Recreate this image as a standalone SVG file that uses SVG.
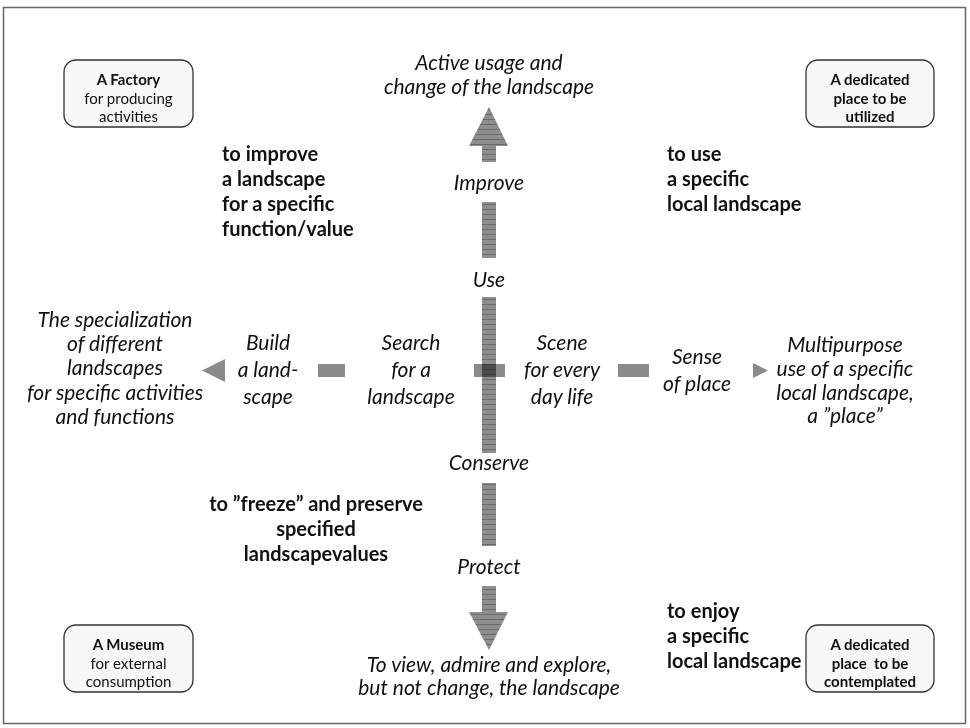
<svg xmlns="http://www.w3.org/2000/svg" width="970" height="728" viewBox="0 0 970 728">
<defs>
<pattern id="stripe" width="8" height="5" patternUnits="userSpaceOnUse">
<rect width="8" height="5" fill="#8e8e8e"/>
<rect y="4" width="8" height="1" fill="#6a6a6a"/>
</pattern>
</defs>
<style>
text{font-family:Lato,"Open Sans","Liberation Sans",sans-serif;fill:#111}
.it{font-style:italic;font-size:21px;text-anchor:middle}
.bd{font-weight:bold;font-size:20px}
.bx{font-size:15px;text-anchor:middle}
.bxb{font-size:15px;text-anchor:middle;font-weight:bold}
.box{fill:#f7f7f7;stroke:#333;stroke-width:1.3}
.shaft{fill:url(#stripe)}
.hbar{fill:#8a8a8a}
.cross{fill:#8a8a8a;mix-blend-mode:multiply}
</style>
<rect x="3.5" y="7.5" width="962" height="716" fill="#fff" stroke="#666" stroke-width="1.5"/>

<g id="connectors">
<path class="shaft" d="M482,162 L482,146 L469,146 L489,107 L508,146 L496,146 L496,162 Z"/>
<rect class="shaft" x="482" y="202" width="14" height="56"/>
<rect class="shaft" x="482" y="297" width="14" height="156"/>
<rect class="shaft" x="482" y="483" width="14" height="63"/>
<path class="shaft" d="M482,586 L496,586 L496,612 L508,612 L489,650 L469,612 L482,612 Z"/>
<rect class="cross" x="474" y="364" width="31" height="13"/>
<rect class="hbar" x="318" y="364" width="27" height="13"/>
<polygon class="hbar" points="202,370.5 225,359 225,382"/>
<rect class="hbar" x="618" y="364" width="31" height="13"/>
<polygon class="hbar" points="753,363 768,370.5 753,378"/>
</g>

<g id="factory">
<rect class="box" x="64" y="60" width="129" height="67" rx="12"/>
<text class="bxb" x="128.5" y="85">A Factory</text>
<text class="bx" x="128.5" y="104">for producing</text>
<text class="bx" x="128.5" y="122">activities</text>
</g>
<g id="utilized">
<rect class="box" x="806" y="60" width="128" height="67" rx="12"/>
<text class="bxb" x="870" y="85">A dedicated</text>
<text class="bxb" x="870" y="104">place to be</text>
<text class="bxb" x="870" y="122">utilized</text>
</g>
<g id="museum">
<rect class="box" x="64" y="625" width="129" height="67" rx="12"/>
<text class="bxb" x="128.5" y="650">A Museum</text>
<text class="bx" x="128.5" y="669">for external</text>
<text class="bx" x="128.5" y="687">consumption</text>
</g>
<g id="contemplated">
<rect class="box" x="806" y="625" width="128" height="67" rx="12"/>
<text class="bxb" x="870" y="650">A dedicated</text>
<text class="bxb" x="870" y="669" xml:space="preserve">place  to be</text>
<text class="bxb" x="870" y="687">contemplated</text>
</g>

<g id="top-goal">
<text class="it" x="489" y="70">Active usage and</text>
<text class="it" x="489" y="94">change of the landscape</text>
</g>
<g id="improve"><text class="it" x="489" y="190">Improve</text></g>
<g id="use"><text class="it" x="489" y="287">Use</text></g>
<g id="conserve"><text class="it" x="489" y="470">Conserve</text></g>
<g id="protect"><text class="it" x="489" y="574">Protect</text></g>
<g id="bottom-goal">
<text class="it" x="489" y="672">To view, admire and explore,</text>
<text class="it" x="489" y="695">but not change, the landscape</text>
</g>

<g id="left-goal">
<text class="it" x="115" y="327">The specialization</text>
<text class="it" x="115" y="351">of different</text>
<text class="it" x="115" y="375">landscapes</text>
<text class="it" x="115" y="400">for specific activities</text>
<text class="it" x="115" y="424">and functions</text>
</g>
<g id="build">
<text class="it" x="268" y="350">Build</text>
<text class="it" x="268" y="377">a land-</text>
<text class="it" x="268" y="404">scape</text>
</g>
<g id="search">
<text class="it" x="411" y="350">Search</text>
<text class="it" x="411" y="377">for a</text>
<text class="it" x="411" y="404">landscape</text>
</g>
<g id="scene">
<text class="it" x="562" y="350">Scene</text>
<text class="it" x="562" y="377">for every</text>
<text class="it" x="562" y="404">day life</text>
</g>
<g id="sense">
<text class="it" x="697" y="364">Sense</text>
<text class="it" x="697" y="391">of place</text>
</g>
<g id="right-goal">
<text class="it" x="845" y="352">Multipurpose</text>
<text class="it" x="845" y="376">use of a specific</text>
<text class="it" x="845" y="400">local landscape,</text>
<text class="it" x="845" y="423">a ”place”</text>
</g>

<g id="q-improve">
<text class="bd" x="222" y="161">to improve</text>
<text class="bd" x="222" y="186">a landscape</text>
<text class="bd" x="222" y="211">for a specific</text>
<text class="bd" x="222" y="236">function/value</text>
</g>
<g id="q-use">
<text class="bd" x="667" y="161">to use</text>
<text class="bd" x="667" y="186">a specific</text>
<text class="bd" x="667" y="211">local landscape</text>
</g>
<g id="q-freeze">
<text class="bd" x="316" y="511" text-anchor="middle">to ”freeze” and preserve</text>
<text class="bd" x="316" y="536" text-anchor="middle">specified</text>
<text class="bd" x="316" y="561" text-anchor="middle">landscapevalues</text>
</g>
<g id="q-enjoy">
<text class="bd" x="667" y="618">to enjoy</text>
<text class="bd" x="667" y="643">a specific</text>
<text class="bd" x="667" y="668">local landscape</text>
</g>
</svg>
